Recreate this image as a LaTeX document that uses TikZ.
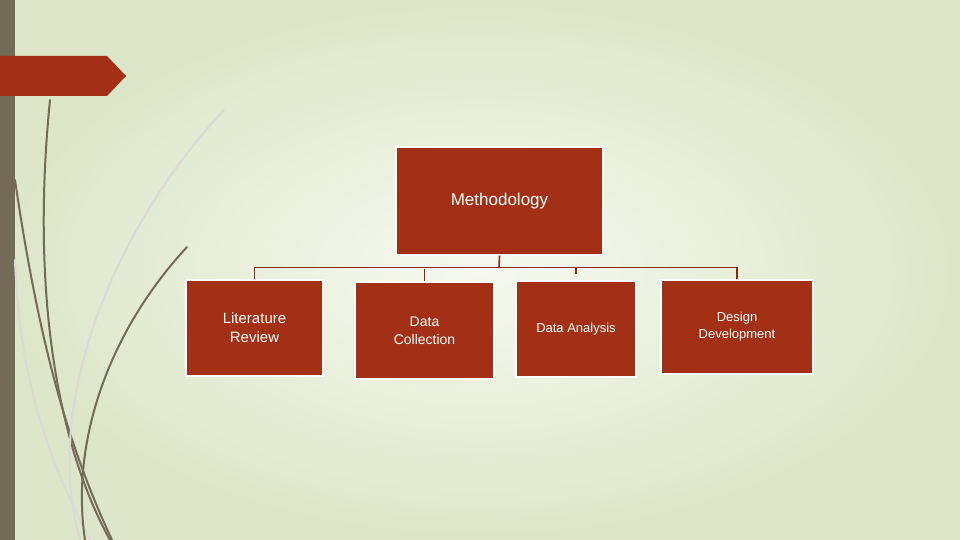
\documentclass[tikz,border=0pt]{standalone}
\usepackage{fontspec}
\setmainfont{Liberation Sans}
\definecolor{rust}{HTML}{A33015}
\definecolor{olive}{HTML}{736B57}
\definecolor{bgA}{HTML}{F7F9F0}
\definecolor{bgB}{HTML}{DDE6C8}
\definecolor{conn}{HTML}{8A2A12}
\begin{document}
\begin{tikzpicture}[x=1pt,y=-1pt,
  box/.style={draw=white,line width=1.2pt,fill=rust,text=white,align=center,inner sep=0pt},
  link/.style={draw=conn,line width=1.6pt},
  stem/.style={draw=olive,line width=2pt,line cap=round},
  pale/.style={draw=olive!25,line width=2pt,line cap=round}]
\useasboundingbox (0,0) rectangle (960,540);
\shade[inner color=bgA,outer color=bgB] (0,0) rectangle (960,540);
\fill[olive] (0,0) rectangle (15,540);
\fill[rust] (0,56) -- (107,56) -- (126,76) -- (107,96) -- (0,96) -- cycle;
% grass strokes
\draw[stem] (50,100) .. controls (30,300) and (60,450) .. (110,540);
\draw[stem] (15,180) .. controls (40,350) and (70,450) .. (112,540);
\draw[pale] (224,110) .. controls (120,220) and (40,400) .. (80,540);
\draw[pale] (15,260) .. controls (20,400) and (60,480) .. (90,540);
\draw[stem] (187,247) .. controls (110,330) and (70,440) .. (85,540);
% nodes
\node[box,minimum width=207,minimum height=108,font=\fontsize{17}{20}\selectfont] (m) at (499.5,201) {Methodology};
\node[box,minimum width=137,minimum height=96,font=\fontsize{15}{19}\selectfont] (a) at (254.5,328) {Literature\\Review};
\node[box,minimum width=139,minimum height=97,font=\fontsize{14}{18}\selectfont] (b) at (424.5,330.5) {Data\\Collection};
\node[box,minimum width=120,minimum height=96,font=\fontsize{13}{17}\selectfont] (c) at (576,329) {Data Analysis};
\node[box,minimum width=152,minimum height=94,font=\fontsize{13}{17}\selectfont] (d) at (737,327) {Design\\Development};
\coordinate (j) at (499,268);
\draw[link] (m.south) -- (j);
\draw[link] (a.north) -- ++(0,-12) -| (d.north);
\draw[link] (b.north) -- ++(0,-12);
\draw[link] (c.north) ++(0,-6) -- ++(0,-7);
\end{tikzpicture}
\end{document}
